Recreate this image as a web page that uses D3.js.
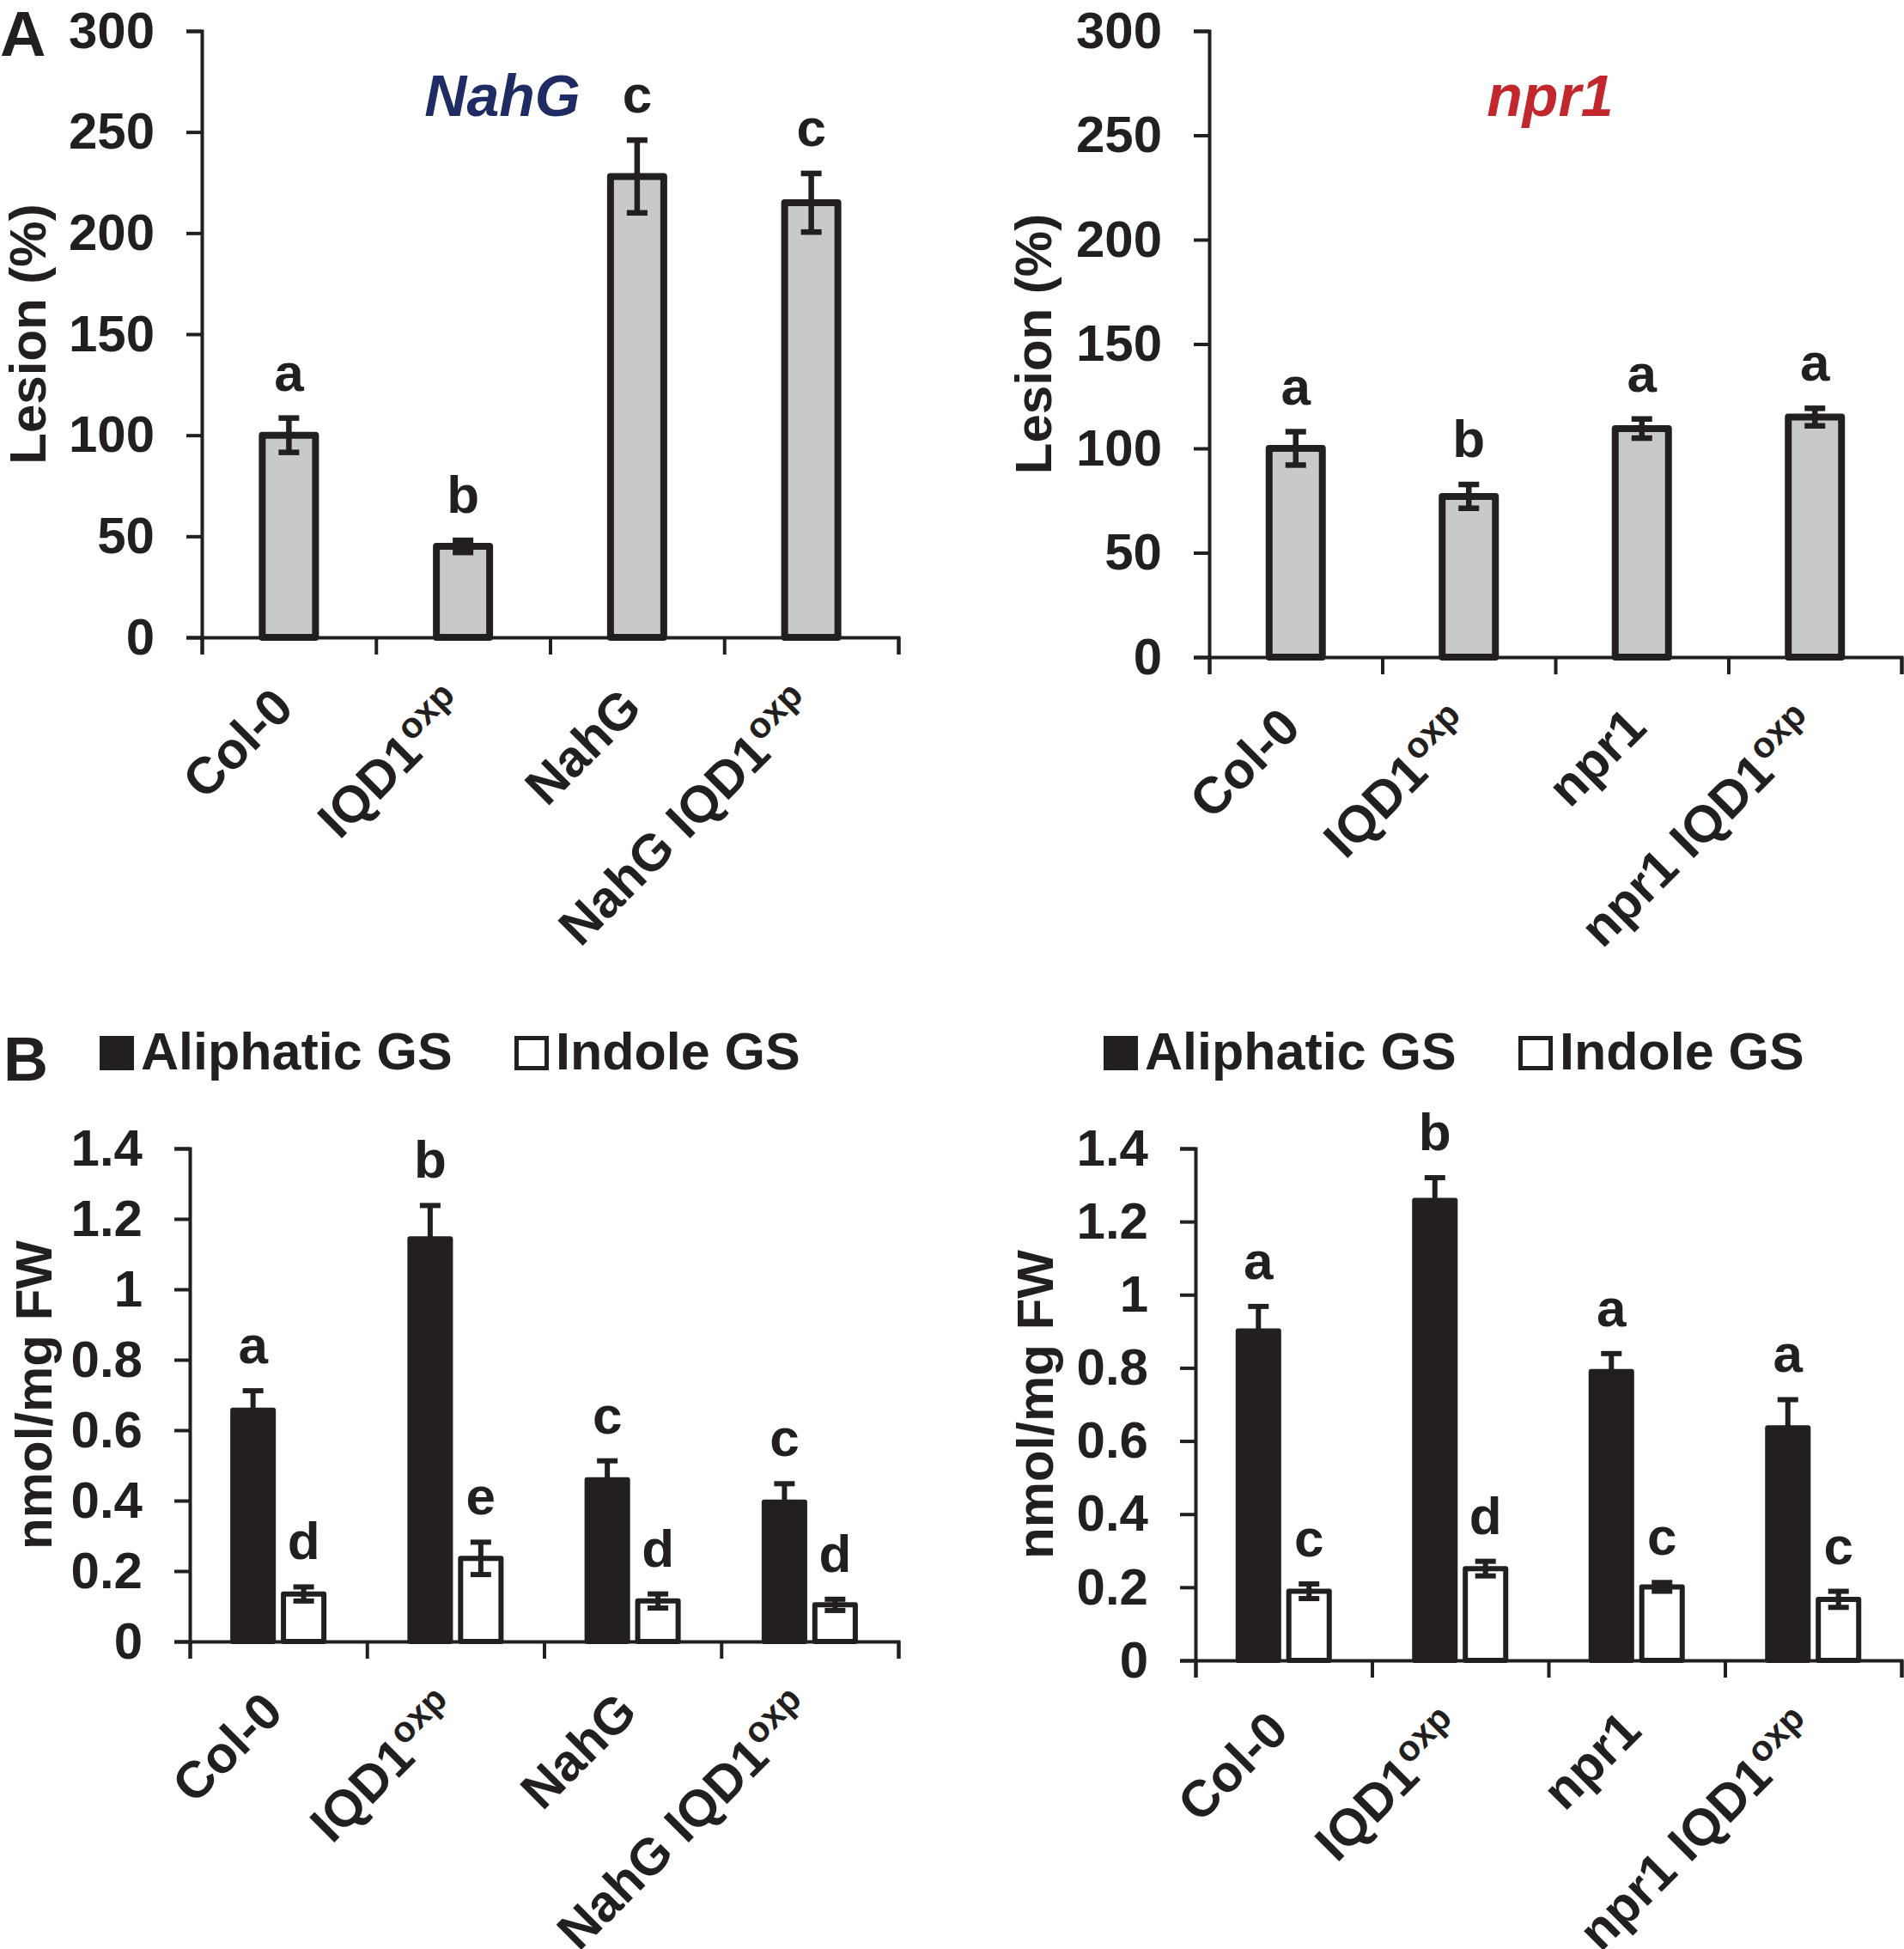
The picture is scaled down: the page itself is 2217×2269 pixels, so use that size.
<!DOCTYPE html>
<html>
<head>
<meta charset="utf-8">
<script src="https://cdn.jsdelivr.net/npm/d3@7"></script>
<style>
  body { margin: 0; background: #fff; }
  svg text { font-family: "Liberation Sans", Arial, sans-serif; font-weight: bold; fill: #231f20; }
</style>
</head>
<body>
<svg id="fig" width="2217" height="2269"></svg>
<script>
// Lesion size (A) and glucosinolate levels (B) for the NahG and npr1 crosses.
// Values; "|" splits a label from its superscript.

const nahgGenotypes = ['Col-0', 'IQD1|oxp', 'NahG', 'NahG IQD1|oxp'];
const npr1Genotypes = ['Col-0', 'IQD1|oxp', 'npr1', 'npr1 IQD1|oxp'];

const lesionTicks = [0, 50, 100, 150, 200, 250, 300];
const gsTicks = [0, 0.2, 0.4, 0.6, 0.8, 1, 1.2, 1.4];
const gsTickLabels = ['0', '0.2', '0.4', '0.6', '0.8', '1', '1.2', '1.4'];

const legendKeys = ['Aliphatic GS', 'Indole GS'];

// A: lesion (%)
const nahgLesion = [100, 45, 228, 215];
const nahgLesionErr = [8.5, 3, 18, 14.5];
const nahgLesionLetters = ['a', 'b', 'c', 'c'];

const npr1Lesion = [100, 77, 109.5, 115];
const npr1LesionErr = [8, 5.7, 4.6, 4.2];
const npr1LesionLetters = ['a', 'b', 'a', 'a'];

// B: nmol/mg FW
const nahgAliphatic = [0.657, 1.143, 0.459, 0.396];
const nahgAliphaticErr = [0.055, 0.095, 0.054, 0.052];
const nahgAliphaticLetters = ['a', 'b', 'c', 'c'];
const nahgIndole = [0.135, 0.236, 0.115, 0.104];
const nahgIndoleErr = [0.02, 0.046, 0.02, 0.016];
const nahgIndoleLetters = ['d', 'e', 'd', 'd'];

const npr1Aliphatic = [0.901, 1.258, 0.790, 0.636];
const npr1AliphaticErr = [0.067, 0.062, 0.049, 0.077];
const npr1AliphaticLetters = ['a', 'b', 'a', 'a'];
const npr1Indole = [0.189, 0.251, 0.201, 0.167];
const npr1IndoleErr = [0.02, 0.02, 0.012, 0.022];
const npr1IndoleLetters = ['c', 'd', 'c', 'c'];

const INK = '#231f20';
const GREY = '#c8c9cb';
const FONT = 60;

const svg = d3.select('#fig');

function drawPanel(p) {
    const n = p.cats.length;
    const x = d3.scaleBand().domain(p.cats).range([p.left, p.right]);
    const edge = d3.scaleLinear().domain([0, n]).range([p.left, p.right]);
    const y = d3.scaleLinear().domain([0, p.max]).range([p.bottom, p.top]);
    const bw = x.bandwidth();
    const sub = d3.scaleBand()
        .domain(p.series.map((s) => s.key))
        .range([bw / 2 - p.groupW / 2, bw / 2 + p.groupW / 2])
        .paddingInner(p.gap);

    const g = svg.append('g');

    // bars first, axes on top
    p.series.forEach((s) => {
        const rows = p.cats.map((c, i) => ({ c, v: s.values[i], e: s.errs[i], l: s.letters[i] }));
        const cx = (d) => x(d.c) + sub(s.key) + sub.bandwidth() / 2;

        g.append('g').selectAll('rect').data(rows).join('rect')
            .attr('x', (d) => x(d.c) + sub(s.key) + p.sw / 2)
            .attr('width', sub.bandwidth() - p.sw)
            .attr('y', (d) => y(d.v))
            .attr('height', (d) => y(0) - y(d.v))
            .attr('fill', s.fill)
            .attr('stroke', INK)
            .attr('stroke-linejoin', 'round')
            .attr('stroke-width', p.sw);

        const err = g.append('g').attr('stroke', INK).attr('stroke-width', p.ew);
        err.selectAll('line.stem').data(rows).join('line').attr('class', 'stem')
            .attr('x1', cx).attr('x2', cx)
            .attr('y1', (d) => y(d.v - d.e)).attr('y2', (d) => y(d.v + d.e));
        [1, -1].forEach((sign) => {
            err.append('g').selectAll('line').data(rows).join('line')
                .attr('x1', (d) => cx(d) - 12).attr('x2', (d) => cx(d) + 12)
                .attr('y1', (d) => y(d.v + sign * d.e)).attr('y2', (d) => y(d.v + sign * d.e));
        });

        g.append('g').selectAll('text').data(rows).join('text')
            .attr('x', cx)
            .attr('y', (d) => y(d.v + d.e) - 32)
            .attr('text-anchor', 'middle')
            .attr('font-size', 62)
            .text((d) => d.l);
    });

    const ya = g.append('g')
        .attr('transform', `translate(${p.left},0)`)
        .call(d3.axisLeft(y).tickValues(p.ticks).tickFormat((d, i) => p.tickLabels[i])
            .tickSize(18).tickPadding(37));
    const xa = g.append('g')
        .attr('transform', `translate(0,${p.bottom})`)
        .call(d3.axisBottom(edge).tickValues(d3.range(n + 1)).tickSize(20).tickFormat(''));
    [ya, xa].forEach((a) => {
        a.selectAll('path, line').attr('stroke', INK).attr('stroke-width', 4);
        a.selectAll('text').attr('font-size', FONT).attr('fill', INK)
            .attr('font-family', '"Liberation Sans", Arial, sans-serif').attr('font-weight', 'bold');
    });

    // rotated genotype labels, superscript after the "|"
    const lab = g.append('g').selectAll('text').data(p.cats).join('text')
        .attr('transform', (c) => `translate(${x(c) + bw / 2 + 8},${p.bottom + 85}) rotate(-45)`)
        .attr('text-anchor', 'end')
        .attr('font-size', FONT);
    lab.append('tspan').text((c) => c.split('|')[0]);
    lab.filter((c) => c.includes('|')).append('tspan')
        .attr('font-size', 42).attr('dy', -22)
        .text((c) => c.split('|')[1]);

    g.append('text')
        .attr('transform', `translate(${p.ylabelX},${(p.top + p.bottom) / 2}) rotate(-90)`)
        .attr('text-anchor', 'middle')
        .attr('dominant-baseline', 'central')
        .attr('font-size', FONT)
        .text(p.ylabel);

    if (p.title) {
        g.append('text')
            .attr('x', p.title.x).attr('y', 135)
            .attr('text-anchor', 'middle')
            .attr('font-size', 68)
            .attr('font-style', 'italic')
            .style('fill', p.title.color)
            .text(p.title.text);
    }
}

function drawLegend(lx) {
    const item = svg.append('g').selectAll('g').data(legendKeys).join('g')
        .attr('transform', (d, i) => `translate(${lx + i * 483},1206)`);
    item.append('rect')
        .attr('x', (d, i) => (i ? 2.5 : 0)).attr('y', (d, i) => (i ? 2.5 : 0))
        .attr('width', (d, i) => (i ? 35 : 40)).attr('height', (d, i) => (i ? 35 : 40))
        .attr('fill', (d, i) => (i ? '#fff' : INK))
        .attr('stroke', INK).attr('stroke-width', (d, i) => (i ? 5 : 0));
    item.append('text').attr('x', 48).attr('y', 39).attr('font-size', 61).text((d) => d);
}

const lesionSeries = (values, errs, letters) => [{ key: 'lesion', values, errs, letters, fill: GREY }];
const gsSeries = (a, ae, al, b, be, bl) => [
    { key: legendKeys[0], values: a, errs: ae, letters: al, fill: INK },
    { key: legendKeys[1], values: b, errs: be, letters: bl, fill: '#fff' },
];

drawPanel({
    cats: nahgGenotypes, left: 235, right: 1046, top: 36, bottom: 742, max: 300,
    ticks: lesionTicks, tickLabels: lesionTicks.map(String), ylabel: 'Lesion (%)', ylabelX: 32,
    series: lesionSeries(nahgLesion, nahgLesionErr, nahgLesionLetters),
    groupW: 70, gap: 0, sw: 8, ew: 6.5,
    title: { text: 'NahG', x: 585, color: '#1f2c64' },
});
drawPanel({
    cats: npr1Genotypes, left: 1408, right: 2214, top: 36, bottom: 765, max: 300,
    ticks: lesionTicks, tickLabels: lesionTicks.map(String), ylabel: 'Lesion (%)', ylabelX: 1203,
    series: lesionSeries(npr1Lesion, npr1LesionErr, npr1LesionLetters),
    groupW: 70, gap: 0, sw: 8, ew: 6.5,
    title: { text: 'npr1', x: 1805, color: '#c1272d' },
});
drawPanel({
    cats: nahgGenotypes, left: 221, right: 1046, top: 1337, bottom: 1911, max: 1.4,
    ticks: gsTicks, tickLabels: gsTickLabels, ylabel: 'nmol/mg FW', ylabelX: 39,
    series: gsSeries(nahgAliphatic, nahgAliphaticErr, nahgAliphaticLetters,
        nahgIndole, nahgIndoleErr, nahgIndoleLetters),
    groupW: 112, gap: 0.1, sw: 6, ew: 6,
});
drawPanel({
    cats: npr1Genotypes, left: 1392, right: 2214, top: 1337, bottom: 1933, max: 1.4,
    ticks: gsTicks, tickLabels: gsTickLabels, ylabel: 'nmol/mg FW', ylabelX: 1205,
    series: gsSeries(npr1Aliphatic, npr1AliphaticErr, npr1AliphaticLetters,
        npr1Indole, npr1IndoleErr, npr1IndoleLetters),
    groupW: 112, gap: 0.1, sw: 6, ew: 6,
});

drawLegend(116);
drawLegend(1285);

svg.append('text').attr('x', 0).attr('y', 65).attr('font-size', 74).text('A');
svg.append('text').attr('x', 4).attr('y', 1258).attr('font-size', 72).text('B');
</script>
</body>
</html>
